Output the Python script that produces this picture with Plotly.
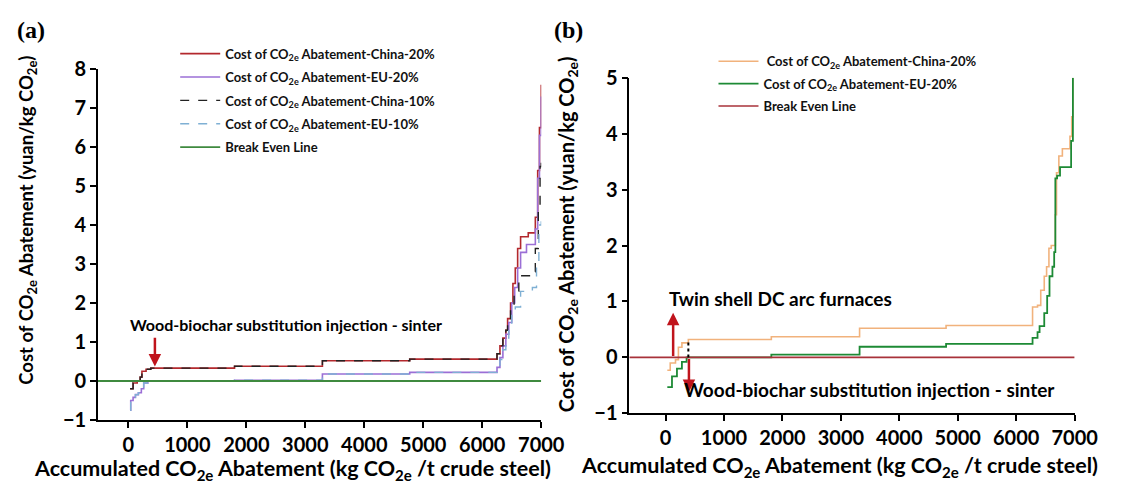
import plotly.graph_objects as go

W, H = 1128, 489

# ---------------- Panel (a) data ----------------
a_cn20_x = [30, 80, 150, 200, 230, 300, 380, 1800, 3290, 4770, 6250, 6300, 6350, 6400, 6430, 6480, 6520, 6560, 6600, 6650, 6780, 6900, 6940, 6970, 7000]
a_cn20_y = [-0.2, -0.05, 0.0, 0.1, 0.25, 0.3, 0.33, 0.38, 0.52, 0.56, 0.7, 0.9, 1.1, 1.3, 1.6, 2.0, 2.5, 2.9, 3.4, 3.7, 3.8, 4.2, 5.4, 6.5, 7.6]

a_eu20_x = [30, 40, 80, 120, 170, 220, 260, 330, 1800, 3290, 4770, 6250, 6300, 6350, 6400, 6450, 6500, 6550, 6600, 6650, 6750, 6900, 6940, 6970, 7000]
a_eu20_y = [-0.75, -0.5, -0.42, -0.35, -0.3, -0.2, -0.05, 0.0, 0.02, 0.18, 0.22, 0.35, 0.6, 0.9, 1.2, 1.5, 2.0, 2.4, 2.9, 3.3, 3.5, 3.9, 5.2, 6.3, 7.3]

a_cn10_x = [30, 80, 150, 200, 230, 300, 380, 1800, 3290, 4770, 6250, 6300, 6350, 6400, 6430, 6480, 6540, 6620, 6800, 6900, 6950, 6980, 7000]
a_cn10_y = [-0.2, -0.05, 0.0, 0.1, 0.25, 0.3, 0.33, 0.38, 0.52, 0.56, 0.7, 0.9, 1.1, 1.3, 1.5, 1.9, 2.3, 2.7, 2.8, 3.4, 4.5, 5.5, 5.6]

a_eu10_x = [30, 40, 80, 120, 170, 220, 260, 330, 1800, 3290, 4770, 6250, 6300, 6350, 6400, 6450, 6500, 6560, 6650, 6850, 6920, 6960, 7000]
a_eu10_y = [-0.75, -0.5, -0.42, -0.35, -0.3, -0.2, -0.05, 0.0, 0.02, 0.18, 0.22, 0.35, 0.55, 0.8, 1.1, 1.4, 1.7, 1.9, 2.3, 2.4, 3.0, 4.0, 4.1]

a_even_x = [-517, 7000]
a_even_y = [0, 0]

# ---------------- Panel (b) data ----------------
b_cn20_x = [30, 80, 170, 220, 280, 390, 1810, 3320, 4800, 6280, 6365, 6420, 6480, 6520, 6560, 6600, 6670, 6690, 6730, 6790, 6920, 6950, 6970]
b_cn20_y = [-0.23, -0.1, -0.04, 0.18, 0.26, 0.32, 0.37, 0.52, 0.57, 0.9, 0.93, 1.2, 1.45, 1.62, 1.95, 2.0, 2.55, 3.3, 3.6, 3.73, 3.95, 4.3, 5.0]

b_eu20_x = [30, 110, 195, 280, 360, 1810, 3320, 4800, 6280, 6365, 6400, 6480, 6530, 6570, 6620, 6650, 6670, 6700, 6750, 6940, 6970]
b_eu20_y = [-0.53, -0.34, -0.2, -0.08, 0.0, 0.05, 0.19, 0.24, 0.35, 0.45, 0.56, 0.79, 1.1, 1.45, 1.62, 1.88, 3.2, 3.25, 3.4, 3.87, 5.0]

b_even_x = [-620, 7000]
b_even_y = [0, 0]

a_xticks = [0, 1000, 2000, 3000, 4000, 5000, 6000, 7000]
a_yticks = [-1, 0, 1, 2, 3, 4, 5, 6, 7, 8]
b_yticks = [-1, 0, 1, 2, 3, 4, 5]

FONT = "Lato"
CO2 = "CO<sub>2e</sub>"

fig = go.Figure()

def step(x, y, name, color, xa, ya, legend, group, dash="solid", width=1.6):
    fig.add_trace(go.Scatter(x=x, y=y, mode="lines", name=name, line=dict(color=color, width=width, dash=dash, shape="hv"),
                             xaxis=xa, yaxis=ya, legend=legend, legendgroup=group))

step(a_cn20_x, a_cn20_y, f"Cost of {CO2} Abatement-China-20%", "#b3282d", "x", "y", "legend", "a1")
step(a_eu20_x, a_eu20_y, f"Cost of {CO2} Abatement-EU-20%", "#9b6fd6", "x", "y", "legend", "a2")
step(a_cn10_x, a_cn10_y, f"Cost of {CO2} Abatement-China-10%", "#222222", "x", "y", "legend", "a3", dash="dash", width=1.4)
step(a_eu10_x, a_eu10_y, f"Cost of {CO2} Abatement-EU-10%", "#7fb0d4", "x", "y", "legend", "a4", dash="dash", width=1.4)
fig.add_trace(go.Scatter(x=a_even_x, y=a_even_y, mode="lines", name="Break Even Line", line=dict(color="#3f8a3f", width=1.8),
                         xaxis="x", yaxis="y", legend="legend", legendgroup="a5"))

step(b_cn20_x, b_cn20_y, f" Cost of {CO2} Abatement-China-20%", "#f1b27c", "x2", "y2", "legend2", "b1")
step(b_eu20_x, b_eu20_y, f"Cost of {CO2} Abatement-EU-20%", "#1d8a35", "x2", "y2", "legend2", "b2", width=1.8)
fig.add_trace(go.Scatter(x=b_even_x, y=b_even_y, mode="lines", name="Break Even Line", line=dict(color="#a8323a", width=1.6),
                         xaxis="x2", yaxis="y2", legend="legend2", legendgroup="b3"))

tickfont = dict(family=FONT, size=20, color="black", weight="bold")
axis_common = dict(showline=True, linecolor="black", linewidth=1.5, ticks="outside", ticklen=6, tickwidth=1.5,
                   tickcolor="black", showgrid=False, zeroline=False, tickfont=tickfont, mirror=False)

legfont = dict(family=FONT, size=13, color="#111", weight="bold")
fig.update_layout(
    width=W, height=H, margin=dict(l=0, r=0, t=0, b=0),
    paper_bgcolor="white", plot_bgcolor="white",
    xaxis=dict(domain=[100 / W, 553 / W], range=[-517, 7000], tickvals=a_xticks, anchor="y", **axis_common),
    yaxis=dict(domain=[1 - 428 / H, 1 - 59 / H], range=[-1, 8], tickvals=a_yticks, anchor="x", **axis_common),
    xaxis2=dict(domain=[643 / W, 1098 / W], range=[-620, 7000], tickvals=a_xticks, anchor="y2", **axis_common),
    yaxis2=dict(domain=[1 - 421 / H, 1 - 68 / H], range=[-1, 5], tickvals=b_yticks, anchor="x2", **axis_common),
    legend=dict(x=179 / W, y=1 - 27 / H, xanchor="left", yanchor="top", bgcolor="rgba(0,0,0,0)",
                font=legfont, tracegroupgap=3.5, itemwidth=40),
    legend2=dict(x=729 / W, y=1 - 35 / H, xanchor="left", yanchor="top", bgcolor="rgba(0,0,0,0)",
                 font=legfont, tracegroupgap=2.5, itemwidth=40),
    showlegend=True,
)

def pann(text, px, py, size=20, **kw):
    d = dict(text=text, x=px / W, y=1 - py / H, xref="paper", yref="paper", xanchor="center", yanchor="middle",
             showarrow=False, font=dict(family=FONT, size=size, color="black", weight="bold"))
    d.update(kw)
    return d

ann = []
ann.append(pann("(a)", 32, 18, font=dict(family="Liberation Serif", size=24, color="black", weight="bold")))
ann.append(pann("(b)", 581, 18, font=dict(family="Liberation Serif", size=24, color="black", weight="bold")))
ann.append(pann(f"Accumulated {CO2} Abatement (kg {CO2} /t crude steel)", 299, 480, size=21.5))
ann.append(pann(f"Accumulated {CO2} Abatement (kg {CO2} /t crude steel)", 858, 477, size=21.5))
ann.append(pann(f"Cost of {CO2} Abatement (yuan/kg {CO2})", 28, 218, size=18.5, textangle=-90))
ann.append(pann(f"Cost of {CO2} Abatement (yuan/kg {CO2})", 580, 233, size=20, textangle=-90))
# panel (a) annotation
ann.append(dict(text="Wood-biochar substitution injection - sinter", x=0, y=1.45, xref="x", yref="y",
                xanchor="left", yanchor="middle", showarrow=False, font=dict(family=FONT, size=16, color="black", weight="bold")))
ann.append(dict(text="", x=450, y=0.37, ax=450, ay=1.15, xref="x", yref="y", axref="x", ayref="y",
                showarrow=True, arrowhead=2, arrowsize=1, arrowwidth=2.5, arrowcolor="#c0141c"))
# panel (b) annotations
ann.append(dict(text="Twin shell DC arc furnaces", x=30, y=1.05, xref="x2", yref="y2",
                xanchor="left", yanchor="middle", showarrow=False, font=dict(family=FONT, size=19, color="black", weight="bold")))
ann.append(dict(text="", x=130, y=0.8, ax=130, ay=0.0, xref="x2", yref="y2", axref="x2", ayref="y2",
                showarrow=True, arrowhead=2, arrowsize=1, arrowwidth=2.5, arrowcolor="#c0141c"))
ann.append(dict(text="", x=400, y=-0.62, ax=400, ay=0.0, xref="x2", yref="y2", axref="x2", ayref="y2",
                showarrow=True, arrowhead=2, arrowsize=1, arrowwidth=2.5, arrowcolor="#c0141c"))
ann.append(dict(text="Wood-biochar substitution injection - sinter", x=280, y=-0.58, xref="x2", yref="y2",
                xanchor="left", yanchor="middle", showarrow=False, font=dict(family=FONT, size=19, color="black", weight="bold")))
fig.update_layout(annotations=ann)

fig.add_shape(type="line", x0=390, x1=390, y0=0.0, y1=0.32, xref="x2", yref="y2",
              line=dict(color="black", width=2, dash="dot"))

fig.write_html("out.html")
